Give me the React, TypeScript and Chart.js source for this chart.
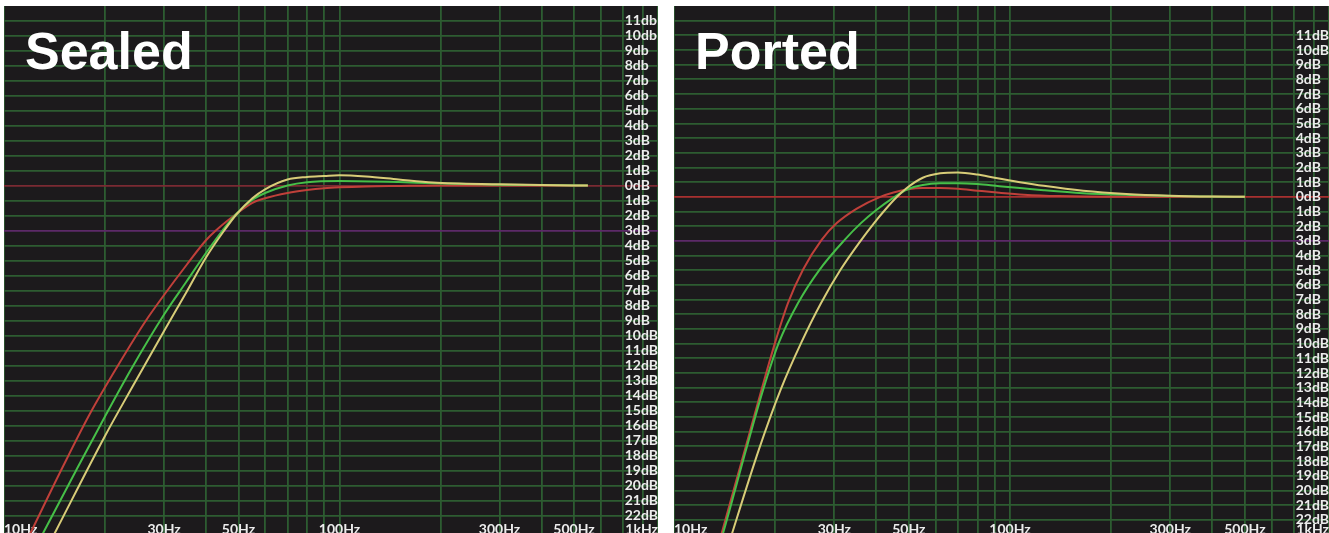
import React, { useEffect, useRef } from 'react';
import { Chart, registerables } from 'chart.js';

Chart.register(...registerables);

// ---------- shared axis data ----------
const X_MIN = 10;
const X_MAX = 890;
const X_TICKS = [10, 20, 30, 40, 50, 60, 70, 80, 90, 100, 200, 300, 400, 500, 600, 700, 800, 890];
const X_LABELS = ['10Hz', '', '30Hz', '', '50Hz', '', '', '', '', '100Hz', '', '300Hz', '', '500Hz', '', '', '', '1kHz'];

// ---------- Sealed ----------
const SEALED_Y_MIN = -23.17;
const SEALED_Y_MAX = 11.97;
const SEALED_Y_TICKS = [11, 10, 9, 8, 7, 6, 5, 4, 3, 2, 1, 0, -1, -2, -3, -4, -5, -6, -7, -8, -9, -10, -11, -12, -13, -14, -15, -16, -17, -18, -19, -20, -21, -22];
const SEALED_Y_LABELS = ['11db', '10db', '9db', '8db', '7db', '6db', '5db', '4db', '3dB', '2dB', '1dB', '0dB', '1dB', '2dB', '3dB', '4dB', '5dB', '6dB', '7dB', '8dB', '9dB', '10dB', '11dB', '12dB', '13dB', '14dB', '15dB', '16dB', '17dB', '18dB', '19dB', '20dB', '21dB', '22dB'];

const SEALED_RED_HZ = [11, 12, 15, 18, 22, 26.5, 30, 35, 40, 42.8, 49.2, 55, 60, 70, 80, 90, 100, 120, 150, 200, 550];
const SEALED_RED_DB = [-24.9, -23.16, -18.72, -15.25, -11.9, -9.0, -7.3, -5.3, -3.65, -3.0, -1.9, -1.15, -0.85, -0.5, -0.3, -0.18, -0.12, -0.06, -0.03, 0, 0];

const SEALED_GREEN_HZ = [12, 13.2, 16.4, 20, 24, 30, 35, 40, 44.8, 49.2, 55, 60, 70, 80, 100, 150, 190, 300, 550];
const SEALED_GREEN_DB = [-24.8, -23.0, -19.0, -15.4, -12.2, -8.6, -6.4, -4.5, -3.0, -1.9, -0.95, -0.5, 0.0, 0.22, 0.3, 0.23, 0.15, 0.05, 0];

const SEALED_YELLOW_HZ = [13, 14.3, 20, 24.1, 30, 35, 40, 45, 49.2, 55, 60, 70, 80, 90, 100, 120, 150, 190, 300, 400, 550];
const SEALED_YELLOW_DB = [-24.8, -23.0, -16.7, -13.45, -9.7, -7.1, -4.8, -3.1, -1.95, -0.85, -0.25, 0.4, 0.57, 0.63, 0.68, 0.6, 0.4, 0.2, 0.08, 0.03, 0];

// ---------- Ported ----------
const PORTED_Y_MIN = -22.9;
const PORTED_Y_MAX = 13.0;
const PORTED_Y_TICKS = [12, 11, 10, 9, 8, 7, 6, 5, 4, 3, 2, 1, 0, -1, -2, -3, -4, -5, -6, -7, -8, -9, -10, -11, -12, -13, -14, -15, -16, -17, -18, -19, -20, -21, -22];
const PORTED_Y_LABELS = ['', '11dB', '10dB', '9dB', '8dB', '7dB', '6dB', '5dB', '4dB', '3dB', '2dB', '1dB', '0dB', '1dB', '2dB', '3dB', '4dB', '5dB', '6dB', '7dB', '8dB', '9dB', '10dB', '11dB', '12dB', '13dB', '14dB', '15dB', '16dB', '17dB', '18dB', '19dB', '20dB', '21dB', '22dB'];

const PORTED_RED_HZ = [13, 13.87, 16.27, 18.24, 19.98, 21.85, 24.2, 27.5, 30.5, 35, 41.1, 45, 49.4, 55, 62, 70, 80, 93, 110, 140, 200, 500];
const PORTED_RED_DB = [-25.3, -22.9, -17.2, -13.1, -9.95, -7.23, -4.97, -2.93, -1.79, -0.8, 0.0, 0.3, 0.5, 0.6, 0.6, 0.55, 0.42, 0.28, 0.15, 0.05, 0, 0];

const PORTED_GREEN_HZ = [13, 14.0, 16.4, 18.44, 20.5, 23.4, 27.1, 32.2, 36.0, 40.1, 45, 49.4, 55, 62, 70, 80, 93, 107, 126, 165, 233, 320, 500];
const PORTED_GREEN_DB = [-25.3, -22.9, -17.2, -13.1, -9.95, -7.23, -4.97, -2.93, -1.79, -0.88, -0.05, 0.5, 0.8, 0.92, 0.93, 0.87, 0.72, 0.6, 0.45, 0.25, 0.12, 0.04, 0];

const PORTED_YELLOW_HZ = [14.0, 14.9, 17.9, 20.8, 23.9, 27.4, 31.3, 36.1, 39.4, 42.5, 46.2, 49.3, 55, 62, 70, 80, 90, 107, 126, 165, 222, 300, 400, 500];
const PORTED_YELLOW_DB = [-24.9, -22.9, -17.2, -13.1, -9.95, -7.23, -4.97, -2.93, -1.79, -0.88, 0.02, 0.6, 1.3, 1.6, 1.66, 1.52, 1.3, 1.0, 0.75, 0.42, 0.2, 0.08, 0.02, 0];

// ---------- styles ----------
const BG = '#1c1a1c';
const GRID_GREEN = '#2d5c31';
const PURPLE = '#5c2a68';
const RED_CURVE = '#c0403a';
const GREEN_CURVE = '#46bf48';
const YELLOW_CURVE = '#d8cc78';
const LABEL_COLOR = '#ececec';
const LABEL_FONT = { family: 'Lato, "Open Sans", sans-serif', size: 14, weight: 'bold' as const };

type Series = { hz: number[]; db: number[]; color: string };

type PanelProps = {
  title: string;
  left: number;
  width: number;
  yMin: number;
  yMax: number;
  yTicks: number[];
  yLabels: string[];
  zeroColor: string;
  series: Series[];
};

function zeroPadding(s: any) {
  s.paddingLeft = 0;
  s.paddingRight = 0;
  s.paddingTop = 0;
  s.paddingBottom = 0;
}

function Panel({ title, left, width, yMin, yMax, yTicks, yLabels, zeroColor, series }: PanelProps) {
  const ref = useRef<HTMLCanvasElement>(null);
  const height = 527;

  useEffect(() => {
    if (!ref.current) return;
    const chart = new Chart(ref.current, {
      type: 'line',
      data: {
        datasets: series.map((s) => ({
          data: s.hz.map((f, i) => ({ x: f, y: s.db[i] })),
          borderColor: s.color,
          borderWidth: 2,
          pointRadius: 0,
          fill: false,
          cubicInterpolationMode: 'monotone' as const,
        })),
      },
      options: {
        responsive: false,
        animation: false,
        layout: { padding: 0 },
        plugins: {
          legend: { display: false },
          tooltip: { enabled: false },
          title: { display: false },
        },
        scales: {
          x: {
            type: 'logarithmic',
            min: X_MIN,
            max: X_MAX,
            afterBuildTicks: (s: any) => {
              s.ticks = X_TICKS.map((v) => ({ value: v }));
            },
            afterFit: (s: any) => {
              s.height = 0;
              zeroPadding(s);
            },
            border: { display: false },
            grid: { color: GRID_GREEN, lineWidth: 1.8, drawTicks: false },
            ticks: {
              autoSkip: false,
              maxRotation: 0,
              minRotation: 0,
              align: 'inner',
              mirror: true,
              padding: -4.5,
              color: LABEL_COLOR,
              font: LABEL_FONT,
              callback: (_v: any, i: number) => X_LABELS[i],
            },
          },
          y: {
            type: 'linear',
            position: 'right',
            min: yMin,
            max: yMax,
            afterBuildTicks: (s: any) => {
              s.ticks = yTicks.map((v) => ({ value: v }));
            },
            afterFit: (s: any) => {
              s.width = 0;
              zeroPadding(s);
            },
            border: { display: false },
            grid: {
              color: (ctx: any) => {
                const v = ctx.tick ? ctx.tick.value : null;
                if (v === 0) return zeroColor;
                if (v === -3) return PURPLE;
                return GRID_GREEN;
              },
              lineWidth: 1.8,
              drawTicks: false,
            },
            ticks: {
              autoSkip: false,
              mirror: true,
              crossAlign: 'far',
              padding: 0,
              color: LABEL_COLOR,
              font: LABEL_FONT,
              callback: (_v: any, i: number) => yLabels[i],
            },
          },
        },
      } as any,
    });
    return () => chart.destroy();
  }, []);

  return (
    <div style={{ position: 'absolute', left, top: 6, width, height, background: BG, overflow: 'hidden' }}>
      <canvas ref={ref} width={width} height={height} style={{ display: 'block' }} />
      <div
        style={{
          position: 'absolute',
          left: 21,
          top: 19,
          color: '#ffffff',
          fontFamily: '"Liberation Sans", Arial, sans-serif',
          fontWeight: 'bold',
          fontSize: 52,
          lineHeight: 1,
          whiteSpace: 'nowrap',
        }}
      >
        {title}
      </div>
    </div>
  );
}

export default function App() {
  return (
    <div style={{ position: 'absolute', left: 0, top: 0, width: 1329, height: 533, background: '#ffffff', overflow: 'hidden' }}>
      <Panel
        title="Sealed"
        left={4}
        width={654}
        yMin={SEALED_Y_MIN}
        yMax={SEALED_Y_MAX}
        yTicks={SEALED_Y_TICKS}
        yLabels={SEALED_Y_LABELS}
        zeroColor="#7a2a32"
        series={[
          { hz: SEALED_YELLOW_HZ, db: SEALED_YELLOW_DB, color: YELLOW_CURVE },
          { hz: SEALED_GREEN_HZ, db: SEALED_GREEN_DB, color: GREEN_CURVE },
          { hz: SEALED_RED_HZ, db: SEALED_RED_DB, color: RED_CURVE },
        ]}
      />
      <Panel
        title="Ported"
        left={674}
        width={655}
        yMin={PORTED_Y_MIN}
        yMax={PORTED_Y_MAX}
        yTicks={PORTED_Y_TICKS}
        yLabels={PORTED_Y_LABELS}
        zeroColor="#a8302f"
        series={[
          { hz: PORTED_YELLOW_HZ, db: PORTED_YELLOW_DB, color: YELLOW_CURVE },
          { hz: PORTED_GREEN_HZ, db: PORTED_GREEN_DB, color: GREEN_CURVE },
          { hz: PORTED_RED_HZ, db: PORTED_RED_DB, color: RED_CURVE },
        ]}
      />
    </div>
  );
}
